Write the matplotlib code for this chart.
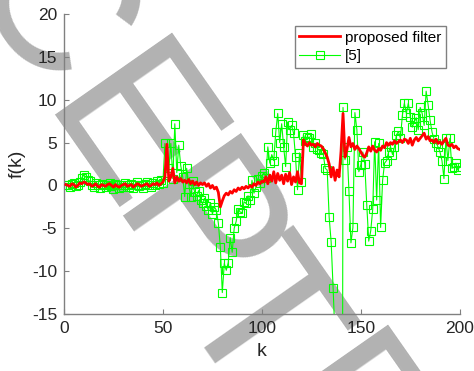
import matplotlib
matplotlib.use("Agg")
import matplotlib.pyplot as plt
import numpy as np

plt.rcParams['font.family'] = ['Liberation Sans', 'DejaVu Sans']
plt.rcParams['axes.unicode_minus'] = False

k = np.arange(1, 201)

# proposed filter
proposed = [
    0.1, 0.0, -0.1, 0.2, 0.1, -0.2, 0.0, 0.3, 0.2, 0.4,
    0.3, 0.1, 0.2, -0.1, 0.0, 0.2, -0.1, -0.2, 0.1, 0.0,
    -0.1, 0.1, 0.2, 0.0, -0.2, 0.1, -0.1, -0.2, 0.0, 0.1,
    0.2, -0.1, 0.0, 0.1, -0.2, 0.0, 0.2, 0.1, -0.1, 0.0,
    0.1, 0.2, -0.1, 0.0, 0.2, 0.1, 0.3, 0.0, 0.2, 0.4,
    1.0, 4.8, 0.5, 1.0, 2.0, 0.3, 1.0, 0.5, 0.8, 0.4,
    0.6, 0.3, 0.7, 0.2, 0.5, 0.1, 0.4, 0.0, 0.3, 0.1,
    0.3, -0.1, 0.2, -0.3, 0.0, -0.4, -0.2, -0.8, -2.5, -1.8,
    -1.2, -0.9, -1.1, -0.7, -0.9, -0.5, -0.7, -0.3, -0.5, -0.2,
    -0.4, -0.1, -0.3, 0.0, -0.2, 0.2, 0.0, 0.4, 0.2, 0.5,
    0.4, 1.0, 0.2, 1.2, 0.5, 1.6, 0.3, 1.4, 0.6, 1.2,
    0.2, 1.3, 0.5, 1.5, 0.1, 1.0, 0.4, 1.6, 0.3, 0.2,
    5.3, 4.9, 4.6, 5.0, 4.7, 4.8, 4.5, 4.9, 4.7, 4.6,
    4.3, 3.8, 3.3, 2.5, 1.0, 2.1, 0.6, 1.8, 1.0, 4.0,
    8.4, 3.3, 4.2, 5.6, 4.5, 4.9, 4.2, 4.6, 4.3, 3.9,
    3.5, 3.3, 3.8, 4.5, 4.0, 4.6, 4.1, 3.9, 4.3, 4.1,
    4.6, 4.4, 5.0, 4.7, 5.0, 4.8, 5.2, 4.9, 5.1, 5.3,
    5.0, 5.4, 5.3, 4.9, 5.5, 4.7, 5.3, 5.6, 5.2, 5.5,
    5.8, 6.1, 5.4, 5.7, 5.2, 5.3, 5.0, 5.4, 4.9, 5.1,
    4.8, 5.2, 5.5, 4.7, 4.6, 4.8, 4.4, 4.6, 4.3, 4.2,
]

# method [5]
ref5 = [
    0.1, 0.0, -0.2, 0.2, 0.3, -0.1, 0.0, 0.4, 0.9, 1.2,
    1.0, 0.6, 0.5, 0.0, -0.2, 0.3, 0.1, -0.3, 0.2, 0.0,
    -0.2, 0.1, 0.3, -0.1, -0.4, 0.2, 0.0, -0.3, 0.1, -0.2,
    0.3, 0.0, -0.2, 0.2, -0.3, 0.1, 0.4, -0.1, 0.0, -0.3,
    0.2, 0.4, 0.0, -0.2, 0.3, 0.1, 0.5, 0.2, 0.6, 0.3,
    4.9, 1.5, 2.0, 4.9, 0.8, 7.2, 1.5, 4.7, 2.3, 1.0,
    -1.3, 2.0, 0.2, -1.3, 0.5, -0.8, -1.2, -0.6, -1.7, -2.1,
    -1.5, -2.4, -2.9, -2.0, -3.3, -2.5, -2.9, -4.4, -7.2, -12.5,
    -9.1, -9.9, -9.0, -6.1, -7.8, -5.0, -4.2, -2.7, -3.1, -3.2,
    -1.9, -2.1, -1.2, -1.7, 0.6, -0.9, -0.2, 0.8, 0.3, 1.1,
    1.5, 0.9, 4.5, 2.6, 3.6, 2.9, 6.2, 8.4, 5.0, 7.2,
    4.5, 2.2, 7.4, 6.5, 7.0, 6.1, 3.3, -0.5, 3.8, 0.4,
    5.9, 5.2, 5.7, 5.5, 6.0, 4.5, 4.9, 4.3, 4.1, 3.8,
    3.7, 2.0, 1.8, -3.7, -6.6, -12.0, -18.0, -40.0, -80.0, -120.0,
    9.1, 3.0, 4.5, -0.7, -6.7, -4.9, 8.5, 6.5, 1.6, 2.4,
    3.9, 2.5, -2.3, -6.5, -5.3, -2.8, 5.1, -1.7, 4.9, -4.9,
    0.6, 2.6, 2.9, 3.9, 4.5, 3.6, 4.5, 5.9, 6.3, 5.5,
    8.2, 9.6, 8.4, 9.6, 8.0, 6.8, 7.4, 7.9, 6.5, 9.1,
    8.4, 7.0, 11.0, 9.4, 7.6, 6.2, 5.4, 5.0, 4.5, 3.9,
    2.9, 0.8, 5.5, 2.9, 5.5, 2.0, 2.1, 2.6, 1.8, 2.2,
]

fig = plt.figure(figsize=(4.74, 3.71), dpi=100)
ax = fig.add_axes([0.135, 0.1536, 0.835, 0.8086])
ax.patch.set_alpha(0)

# watermark letters ("ACCEPTED" crop) behind the plot
wm_letters = ['C', 'E', 'P', 'T', 'E']
wm_anchors = [(-0.0951, 1.0515), (0.0772, 0.6919), (0.2207, 0.4197),
              (0.3593, 0.1755), (0.5327, -0.0938)]
for ch, (x, y) in zip(wm_letters, wm_anchors):
    fig.text(x, y, ch, fontsize=150, color='#b2b2b2', rotation=-55,
             rotation_mode='anchor', ha='left', va='baseline', zorder=-5)

l5, = ax.plot(k, ref5, color='#00ff00', lw=0.8, marker='s', ms=5.5,
              mfc='none', mec='#00ff00', mew=0.8, label='[5]', zorder=2)
lp, = ax.plot(k, proposed, color='#ff0000', lw=2, label='proposed filter', zorder=3)

ax.set_xlim(0, 200)
ax.set_ylim(-15, 20)
ax.set_xticks([0, 50, 100, 150, 200])
ax.set_yticks([-15, -10, -5, 0, 5, 10, 15, 20])
ax.spines['top'].set_visible(False)
ax.spines['right'].set_visible(False)
for s in ['left', 'bottom']:
    ax.spines[s].set_color('#808080')
    ax.spines[s].set_linewidth(1)
ax.tick_params(direction='in', length=3.5, color='#808080', labelsize=12.5,
               labelcolor='#262626', pad=5)
ax.set_xlabel('k', fontsize=14, color='#262626', labelpad=5)
ax.set_ylabel('f(k)', fontsize=14, color='#262626', labelpad=4)

leg = ax.legend(handles=[lp, l5], loc='upper right', bbox_to_anchor=(0.965, 0.96),
                borderaxespad=0, fontsize=11, fancybox=False, framealpha=1,
                edgecolor='#808080', handlelength=2.7, handletextpad=0.3,
                labelspacing=0.3, borderpad=0.3)
leg.get_frame().set_linewidth(1)

fig.savefig('out.png', dpi=100)
